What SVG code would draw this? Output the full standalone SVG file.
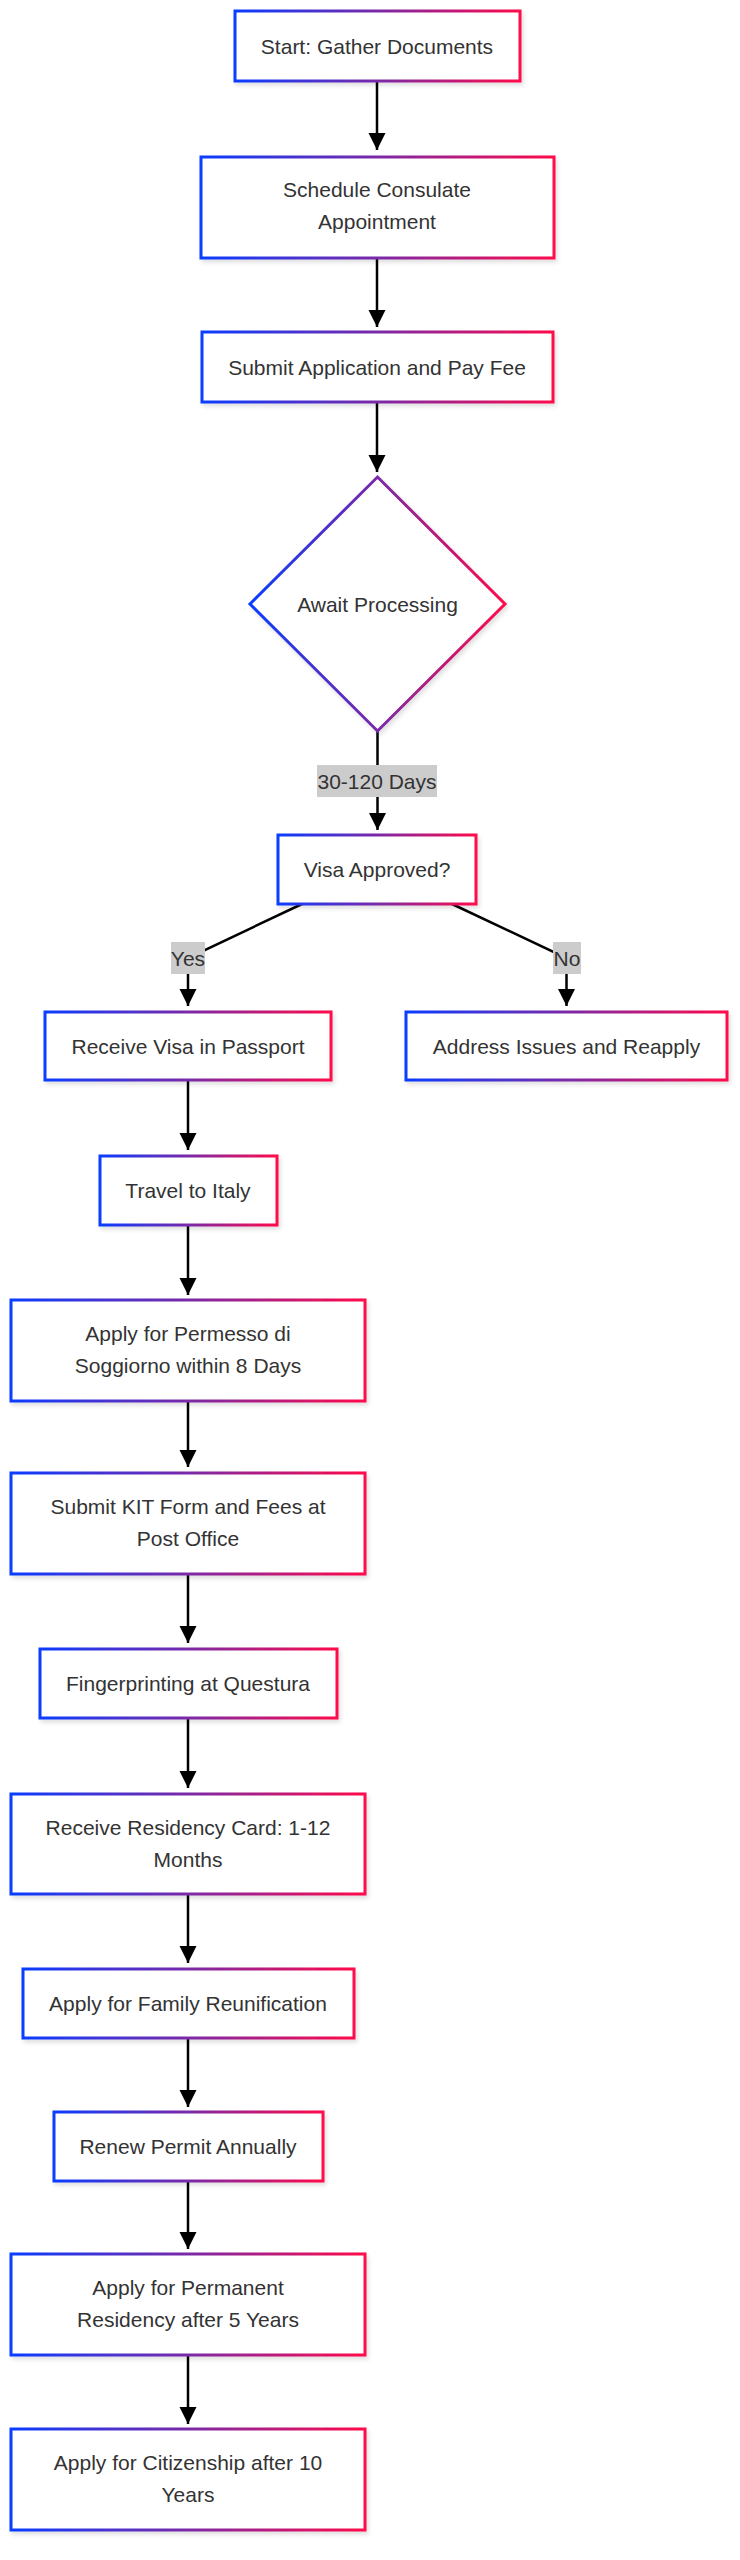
<svg xmlns="http://www.w3.org/2000/svg" width="740" height="2560" viewBox="0 0 740 2560">
<style>
.n{fill:#fff;stroke:url(#g);stroke-width:3;filter:url(#sh)}
.t{font-family:"Liberation Sans",Arial,sans-serif;font-size:21px;fill:#333;text-anchor:middle}
.e{fill:none;stroke:#000;stroke-width:2.5;marker-end:url(#ah)}
.lb{fill:#cccccc}
</style>
<defs>
<linearGradient id="g" x1="0" y1="0" x2="1" y2="0"><stop offset="0" stop-color="#0a3cff"/><stop offset="0.5" stop-color="#7a2aa8"/><stop offset="1" stop-color="#ff0a4a"/></linearGradient>
<filter id="sh" x="-10%" y="-10%" width="120%" height="130%"><feDropShadow dx="2" dy="3" stdDeviation="2" flood-color="#000" flood-opacity="0.12"/></filter>
<marker id="ah" viewBox="0 0 10 10" refX="10" refY="5" markerWidth="7" markerHeight="7" orient="auto" markerUnits="strokeWidth"><path d="M0,0 L10,5 L0,10 z" fill="#000"/></marker>
</defs>
<g id="connectors">
<path class="e" d="M377,81 V150"/>
<path class="e" d="M377,258 V327"/>
<path class="e" d="M377,402 V472"/>
<path class="e" d="M377.5,731 V830"/>
<path class="e" d="M302,904 L188,958 V1006"/>
<path class="e" d="M452,904 L566.5,958 V1006"/>
<path class="e" d="M188,1080 V1150"/>
<path class="e" d="M188,1225 V1295"/>
<path class="e" d="M188,1401 V1467"/>
<path class="e" d="M188,1574 V1643"/>
<path class="e" d="M188,1718 V1788"/>
<path class="e" d="M188,1894 V1963"/>
<path class="e" d="M188,2038 V2107"/>
<path class="e" d="M188,2181 V2249"/>
<path class="e" d="M188,2355 V2424"/>
<rect class="lb" x="317" y="765" width="120" height="32"/>
<text class="t" x="377" y="788.5">30-120 Days</text>
<rect class="lb" x="171" y="942" width="34" height="32"/>
<text class="t" x="188" y="965.5">Yes</text>
<rect class="lb" x="553" y="942" width="28" height="32"/>
<text class="t" x="567" y="965.5">No</text>
</g>
<g id="start"><rect class="n" x="235" y="11" width="285" height="70"/><text class="t" x="377" y="53.5">Start: Gather Documents</text></g>
<g id="schedule"><rect class="n" x="201" y="157" width="353" height="101"/><text class="t" x="377" y="197">Schedule Consulate</text><text class="t" x="377" y="229">Appointment</text></g>
<g id="submit"><rect class="n" x="202" y="332" width="351" height="70"/><text class="t" x="377" y="374.5">Submit Application and Pay Fee</text></g>
<g id="await"><polygon class="n" points="377.5,477 505,604 377.5,731 250,604"/><text class="t" x="377.5" y="611.5">Await Processing</text></g>
<g id="visa"><rect class="n" x="278" y="835" width="198" height="69"/><text class="t" x="377" y="876.5">Visa Approved?</text></g>
<g id="receive"><rect class="n" x="45" y="1012" width="286" height="68"/><text class="t" x="188" y="1053.5">Receive Visa in Passport</text></g>
<g id="address"><rect class="n" x="406" y="1012" width="321" height="68"/><text class="t" x="566.5" y="1053.5">Address Issues and Reapply</text></g>
<g id="travel"><rect class="n" x="100" y="1156" width="177" height="69"/><text class="t" x="188" y="1197.5">Travel to Italy</text></g>
<g id="permesso"><rect class="n" x="11" y="1300" width="354" height="101"/><text class="t" x="188" y="1341">Apply for Permesso di</text><text class="t" x="188" y="1373">Soggiorno within 8 Days</text></g>
<g id="kit"><rect class="n" x="11" y="1473" width="354" height="101"/><text class="t" x="188" y="1514">Submit KIT Form and Fees at</text><text class="t" x="188" y="1546">Post Office</text></g>
<g id="finger"><rect class="n" x="40" y="1649" width="297" height="69"/><text class="t" x="188" y="1691">Fingerprinting at Questura</text></g>
<g id="card"><rect class="n" x="11" y="1794" width="354" height="100"/><text class="t" x="188" y="1835">Receive Residency Card: 1-12</text><text class="t" x="188" y="1867">Months</text></g>
<g id="family"><rect class="n" x="23" y="1969" width="331" height="69"/><text class="t" x="188" y="2011">Apply for Family Reunification</text></g>
<g id="renew"><rect class="n" x="54" y="2112" width="269" height="69"/><text class="t" x="188" y="2154">Renew Permit Annually</text></g>
<g id="permanent"><rect class="n" x="11" y="2254" width="354" height="101"/><text class="t" x="188" y="2295">Apply for Permanent</text><text class="t" x="188" y="2327">Residency after 5 Years</text></g>
<g id="citizenship"><rect class="n" x="11" y="2429" width="354" height="101"/><text class="t" x="188" y="2470">Apply for Citizenship after 10</text><text class="t" x="188" y="2502">Years</text></g>
</svg>
